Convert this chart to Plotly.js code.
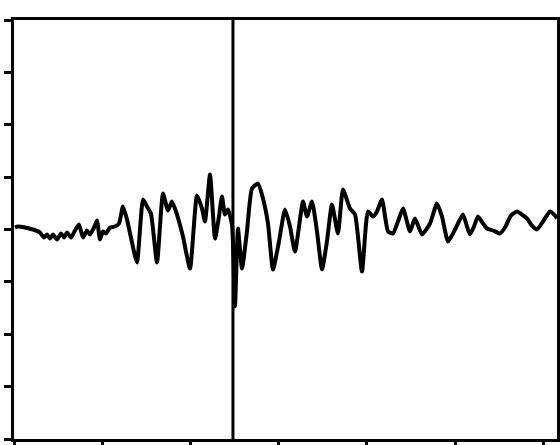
<!DOCTYPE html>
<html>
<head>
<meta charset="utf-8">
<script src="https://cdn.plot.ly/plotly-3.0.1.min.js"></script>
<style>html,body{margin:0;padding:0;background:#fff;}</style>
</head>
<body>
<div id="chart" style="width:560px;height:445px;"></div>
<script>
// time (arbitrary units, one tick per unit) and amplitude (one tick per unit)
const time = [0, 0.034, 0.114, 0.205, 0.284, 0.330, 0.364, 0.398, 0.432, 0.477, 0.523, 0.557, 0.591, 0.636, 0.682, 0.727, 0.773, 0.818, 0.852, 0.898, 0.932, 0.966, 1.000, 1.034, 1.080, 1.136, 1.182, 1.227, 1.273, 1.318, 1.386, 1.455, 1.500, 1.545, 1.614, 1.682, 1.739, 1.784, 1.841, 1.909, 1.989, 2.068, 2.125, 2.159, 2.216, 2.273, 2.318, 2.352, 2.386, 2.420, 2.466, 2.500, 2.534, 2.580, 2.636, 2.693, 2.761, 2.818, 2.875, 2.932, 3.000, 3.068, 3.125, 3.182, 3.273, 3.318, 3.375, 3.432, 3.489, 3.545, 3.602, 3.670, 3.727, 3.807, 3.864, 3.943, 4.011, 4.068, 4.114, 4.170, 4.239, 4.295, 4.352, 4.409, 4.489, 4.545, 4.625, 4.716, 4.795, 4.852, 4.920, 4.977, 5.034, 5.091, 5.136, 5.170, 5.216, 5.261, 5.318, 5.364, 5.432, 5.511, 5.568, 5.636, 5.705, 5.761, 5.818, 5.875, 5.932, 6.000, 6.080, 6.136, 6.159];
const amplitude = [0.038, 0.057, 0.038, 0, -0.057, -0.153, -0.095, -0.172, -0.095, -0.191, -0.076, -0.153, -0.057, -0.153, -0.019, 0.095, -0.153, -0.019, -0.095, 0.038, 0.172, -0.191, -0.038, -0.076, 0.038, 0.057, 0.115, 0.439, 0.191, -0.153, -0.630, 0.573, 0.439, 0.305, -0.630, 0.687, 0.363, 0.534, 0.286, -0.134, -0.744, 0.649, 0.401, 0.153, 1.050, -0.172, 0.248, 0.630, 0.286, 0.382, 0.095, -1.469, 0.019, -0.744, -0.038, 0.782, 0.878, 0.592, 0.115, -0.763, -0.229, 0.382, 0.057, -0.420, 0.534, 0.248, 0.534, -0.038, -0.763, -0.229, 0.477, -0.076, 0.763, 0.401, 0.286, -0.802, 0.344, 0.248, 0.344, 0.573, -0.038, -0.076, 0.153, 0.401, -0.038, 0.210, -0.095, 0.115, 0.496, 0.248, -0.229, -0.076, 0.115, 0.286, 0.057, -0.095, 0.057, 0.248, 0.115, 0.019, -0.019, -0.076, 0.038, 0.267, 0.344, 0.286, 0.210, 0.076, 0, 0.153, 0.344, 0.267, 0.210];
const markerTime = 2.477;

const trace = {
  x: time, y: amplitude, type: 'scatter', mode: 'lines',
  line: {color: '#000', width: 4, shape: 'spline', smoothing: 0.5},
  hoverinfo: 'skip'
};
const axisCommon = {
  showline: true, linecolor: '#000', linewidth: 3, mirror: true,
  ticks: 'outside', ticklen: 7, tickwidth: 3, tickcolor: '#000',
  showgrid: false, zeroline: false, showticklabels: false, dtick: 1
};
const layout = {
  width: 560, height: 445,
  margin: {l: 14, r: 3, t: 20, b: 6, pad: 0},
  paper_bgcolor: '#fff', plot_bgcolor: '#fff',
  showlegend: false,
  xaxis: Object.assign({}, axisCommon, {range: [-0.011, 6.159], tick0: 0}),
  yaxis: Object.assign({}, axisCommon, {range: [-4, 4], tick0: 0}),
  shapes: [{type: 'line', xref: 'x', yref: 'paper', x0: markerTime, x1: markerTime, y0: 0, y1: 1,
            line: {color: '#000', width: 3}}]
};
Plotly.newPlot('chart', [trace], layout, {displayModeBar: false, staticPlot: true});
</script>
</body>
</html>
